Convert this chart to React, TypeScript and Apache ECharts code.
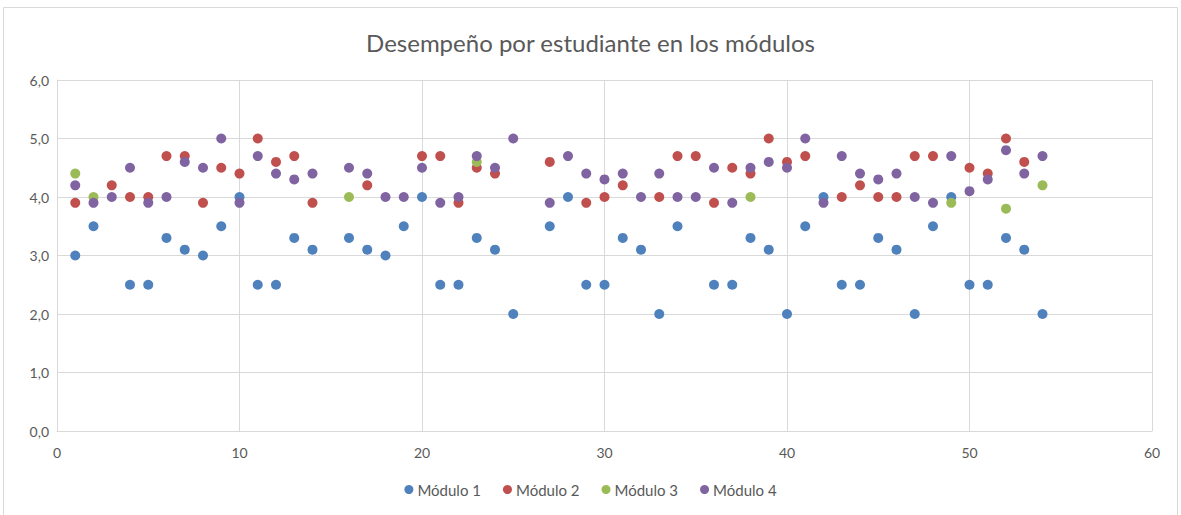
import React, { useEffect, useRef } from "react";
import * as echarts from "echarts";

const students = [
  1, 2, 3, 4, 5, 6, 7, 8, 9, 10, 11, 12, 13, 14, 15, 16, 17, 18, 19, 20, 21, 22, 23, 24, 25, 26, 27,
  28, 29, 30, 31, 32, 33, 34, 35, 36, 37, 38, 39, 40, 41, 42, 43, 44, 45, 46, 47, 48, 49, 50, 51, 52, 53, 54,
];

const modulo1 = [
  3.0, 3.5, null, 2.5, 2.5, 3.3, 3.1, 3.0, 3.5, 4.0, 2.5, 2.5, 3.3, 3.1, null, 3.3, 3.1, 3.0, 3.5, 4.0, 2.5, 2.5, 3.3, 3.1, 2.0, null, 3.5,
  4.0, 2.5, 2.5, 3.3, 3.1, 2.0, 3.5, null, 2.5, 2.5, 3.3, 3.1, 2.0, 3.5, 4.0, 2.5, 2.5, 3.3, 3.1, 2.0, 3.5, 4.0, 2.5, 2.5, 3.3, 3.1, 2.0,
];

const modulo2 = [
  3.9, null, 4.2, 4.0, 4.0, 4.7, 4.7, 3.9, 4.5, 4.4, 5.0, 4.6, 4.7, 3.9, null, null, 4.2, null, null, 4.7, 4.7, 3.9, 4.5, 4.4, null, null, 4.6,
  null, 3.9, 4.0, 4.2, null, 4.0, 4.7, 4.7, 3.9, 4.5, 4.4, 5.0, 4.6, 4.7, null, 4.0, 4.2, 4.0, 4.0, 4.7, 4.7, null, 4.5, 4.4, 5.0, 4.6, null,
];

const modulo3 = [
  4.4, 4.0, null, null, null, null, null, null, null, null, null, null, null, null, null, 4.0, null, null, null, null, null, null, 4.6, null, null, null, null,
  null, null, null, null, null, null, null, null, null, null, 4.0, null, null, null, null, null, null, null, null, null, null, 3.9, null, null, 3.8, null, 4.2,
];

const modulo4 = [
  4.2, 3.9, 4.0, 4.5, 3.9, 4.0, 4.6, 4.5, 5.0, 3.9, 4.7, 4.4, 4.3, 4.4, null, 4.5, 4.4, 4.0, 4.0, 4.5, 3.9, 4.0, 4.7, 4.5, 5.0, null, 3.9,
  4.7, 4.4, 4.3, 4.4, 4.0, 4.4, 4.0, 4.0, 4.5, 3.9, 4.5, 4.6, 4.5, 5.0, 3.9, 4.7, 4.4, 4.3, 4.4, 4.0, 3.9, 4.7, 4.1, 4.3, 4.8, 4.4, 4.7,
];

const seriesNames = ["Módulo 1", "Módulo 2", "Módulo 3", "Módulo 4"];
const seriesValues = [modulo1, modulo2, modulo3, modulo4];
const colors = ["#4F81BD", "#C0504D", "#9BBB59", "#8064A2"];

const FONT = "'Liberation Sans Narrow', Lato, sans-serif";

function pairs(vals: (number | null)[]) {
  const out: [number, number][] = [];
  students.forEach((s, i) => {
    const v = vals[i];
    if (v !== null && v !== undefined) out.push([s, v]);
  });
  return out;
}

export default function App() {
  const ref = useRef<HTMLDivElement>(null);
  useEffect(() => {
    if (!ref.current) return;
    const chart = echarts.init(ref.current, null, { renderer: "svg" });
    chart.setOption({
      animation: false,
      color: colors,
      title: {
        text: "Desempeño por estudiante en los módulos",
        left: "center",
        top: 25,
        textStyle: { fontFamily: FONT, fontSize: 24, fontWeight: "normal", color: "#595959" },
      },
      legend: {
        bottom: 13,
        left: "center",
        icon: "circle",
        itemWidth: 9,
        itemHeight: 9,
        itemGap: 22,
        data: seriesNames,
        textStyle: { fontFamily: FONT, fontSize: 15, color: "#595959", padding: [0, 0, 0, -1] },
      },
      grid: { left: 57, right: 29, top: 80, bottom: 84, containLabel: false },
      xAxis: {
        type: "value",
        min: 0,
        max: 60,
        interval: 10,
        axisLine: { show: true, lineStyle: { color: "#D9D9D9" } },
        axisTick: { show: false },
        splitLine: { show: true, lineStyle: { color: "#D9D9D9" } },
        axisLabel: { fontFamily: FONT, fontSize: 14, color: "#595959", margin: 14 },
      },
      yAxis: {
        type: "value",
        min: 0,
        max: 6,
        interval: 1,
        axisLine: { show: true, lineStyle: { color: "#D9D9D9" } },
        axisTick: { show: false },
        splitLine: { show: true, lineStyle: { color: "#D9D9D9" } },
        axisLabel: {
          fontFamily: FONT,
          fontSize: 14,
          color: "#595959",
          margin: 8,
          formatter: (v: number) => v.toFixed(1).replace(".", ","),
        },
      },
      graphic: [
        {
          type: "rect",
          shape: { x: 3.5, y: 7.5, width: 1174, height: 520 },
          style: { fill: "none", stroke: "#D9D9D9", lineWidth: 1 },
          silent: true,
        },
      ],
      series: seriesNames.map((name, i) => ({
        name,
        type: "scatter",
        symbol: "circle",
        symbolSize: 10,
        data: pairs(seriesValues[i]),
        itemStyle: { color: colors[i], opacity: 1 },
      })),
    });
    return () => chart.dispose();
  }, []);
  return (
    <div
      ref={ref}
      style={{ position: "fixed", left: 0, top: 0, width: 1181, height: 515, background: "#fff" }}
    />
  );
}
